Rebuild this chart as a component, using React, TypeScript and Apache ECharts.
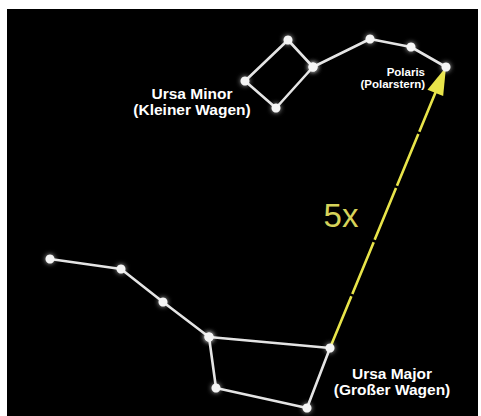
import React, { useEffect, useRef } from "react";
import * as echarts from "echarts";

// Star positions (chart coordinates = map coordinates, y downward)
const ursaMajor: number[][] = [
  [50, 259], [121, 269], [163, 302], [209, 337], [330, 348], [307, 408], [216, 388], [209, 337],
];
const ursaMinor: number[][] = [
  [313, 67], [288, 40], [245, 81], [276, 108], [313, 67], [370, 39], [411, 47], [446, 67],
];
const pointerStart = ursaMajor[4];
const polaris = ursaMinor[7];

const ursaMinorLabel = ["Ursa Minor", "(Kleiner Wagen)"];
const ursaMajorLabel = ["Ursa Major", "(Großer Wagen)"];
const polarisLabel = ["Polaris", "(Polarstern)"];
const factorLabel = "5x";

export default function App() {
  const ref = useRef<HTMLDivElement>(null);
  useEffect(() => {
    if (!ref.current) return;
    const chart = echarts.init(ref.current, undefined, { renderer: "svg" });
    const dx = polaris[0] - pointerStart[0];
    const dy = polaris[1] - pointerStart[1];
    const len = Math.sqrt(dx * dx + dy * dy);
    const ux = dx / len, uy = dy / len;
    const headLen = 28;
    const lineEnd = [polaris[0] - ux * 20, polaris[1] - uy * 20];
    const headCenter = [polaris[0] - ux * headLen / 2, polaris[1] - uy * headLen / 2];
    const angle = (Math.atan2(dx, -dy) * 180) / Math.PI;
    const yellow = "#e8e44a";
    const starStyle = {
      color: "#f5f5f5",
      shadowBlur: 5,
      shadowColor: "rgba(255,255,255,0.7)",
    };
    const lineStyle = { color: "#e4e4e4", width: 2.6 };
    const font = '"Liberation Sans", Arial, Helvetica, sans-serif';
    chart.setOption({
      animation: false,
      backgroundColor: "#ffffff",
      grid: { left: 7, top: 9, right: 3, bottom: 0, show: true, backgroundColor: "#000000", borderWidth: 0 },
      xAxis: { type: "value", min: 7, max: 478, show: false },
      yAxis: { type: "value", min: 9, max: 416, inverse: true, show: false },
      series: [
        {
          type: "line",
          data: [pointerStart, lineEnd],
          symbol: "none",
          z: 2,
          lineStyle: { color: yellow, width: 2.6, type: [56, 2.5] },
        },
        {
          type: "scatter",
          data: [headCenter],
          symbol: "path://M8,0L16,28L0,28Z",
          symbolSize: [17, headLen],
          symbolRotate: -angle,
          z: 3,
          itemStyle: { color: yellow, opacity: 1 },
        },
        {
          type: "line",
          data: ursaMajor,
          symbol: "circle",
          symbolSize: 9,
          showSymbol: true,
          z: 4,
          lineStyle,
          itemStyle: starStyle,
        },
        {
          type: "line",
          data: ursaMinor,
          symbol: "circle",
          symbolSize: 9,
          showSymbol: true,
          z: 4,
          lineStyle,
          itemStyle: starStyle,
        },
      ],
      graphic: [
        {
          type: "text",
          x: 192,
          y: 85,
          z: 10,
          style: {
            text: ursaMinorLabel.join("\n"),
            fill: "#ffffff",
            font: `bold 15.5px ${font}`,
            lineHeight: 16,
            align: "center",
          },
        },
        {
          type: "text",
          x: 392,
          y: 365,
          z: 10,
          style: {
            text: ursaMajorLabel.join("\n"),
            fill: "#ffffff",
            font: `bold 15.5px ${font}`,
            lineHeight: 16,
            align: "center",
          },
        },
        {
          type: "text",
          x: 425,
          y: 66,
          z: 10,
          style: {
            text: polarisLabel.join("\n"),
            fill: "#ffffff",
            font: `bold 11.5px ${font}`,
            lineHeight: 12,
            align: "right",
          },
        },
        {
          type: "text",
          x: 341,
          y: 199,
          z: 10,
          style: {
            text: factorLabel,
            fill: "#d6d35a",
            font: `33px ${font}`,
            align: "center",
          },
        },
      ],
    });
    return () => chart.dispose();
  }, []);
  return (
    <div
      ref={ref}
      style={{ position: "fixed", left: 0, top: 0, width: 481, height: 416 }}
    />
  );
}
